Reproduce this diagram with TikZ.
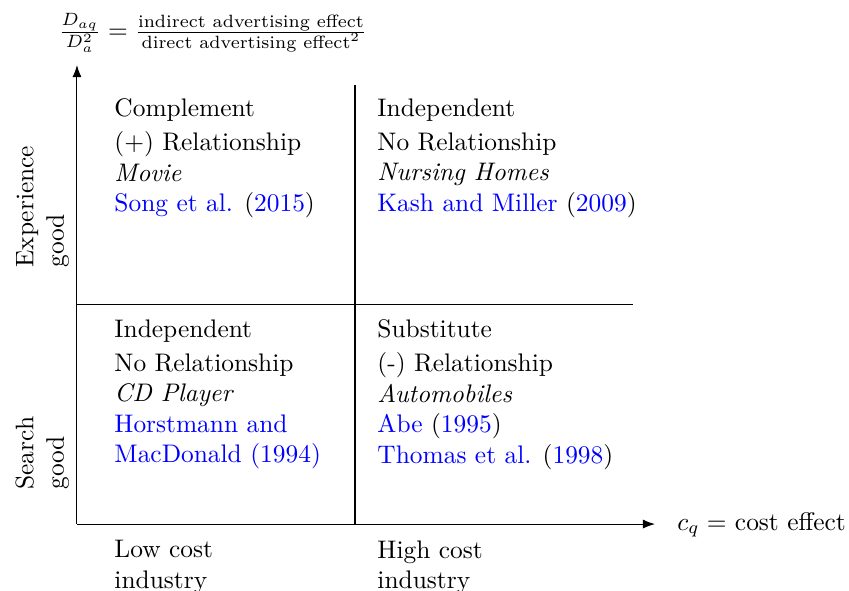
\documentclass[tikz,border=0pt]{standalone}
\usepackage{amsmath}
\usetikzlibrary{arrows.meta}
\newcommand{\citeblue}[2]{\textcolor{blue}{#1} (\textcolor{blue}{#2})}

\begin{document}
\begin{tikzpicture}[quad/.style={anchor=north west,align=left,inner sep=0pt},
    sidelabel/.style={anchor=base west,align=left,inner sep=0pt,rotate=90}]
        \useasboundingbox (-1.065,-0.913) rectangle (10.682,7.251);
        % axes and dividers
        \coordinate (o) at (0,0);
        \coordinate (ytop) at (0,6.351);
        \coordinate (xend) at (7.998,0);
        \coordinate (vtop) at (3.847,6.074);
        \coordinate (vbot) at (3.847,0);
        \coordinate (hleft) at (0,3.044);
        \coordinate (hright) at (7.693,3.044);
        \draw[-{Latex}] (o) -- (ytop);
        \draw[-{Latex}] (o) -- (xend);
        \draw (vbot) -- (vtop);
        \draw (hleft) -- (hright);
        % axis labels
        \node[anchor=west,inner sep=0pt] (ylab) at (-0.263,6.794)
          {$\frac{D_{aq}}{D_a^2} = \frac{\text{indirect advertising effect}}{\text{direct advertising effect}^2}$};
        \node[anchor=base west,inner sep=0pt] (xlab) at (8.302,-0.083) {$c_q = $ cost effect};
        \node[sidelabel] (exper) at (-0.180,3.542) {Experience\\good};
        \node[sidelabel] (search) at (-0.180,0.470) {Search\\good};
        \node[quad] (lowcost) at (0.512,-0.221) {Low cost\\industry};
        \node[quad] (highcost) at (4.151,-0.221) {High cost\\industry};
        % quadrants
        \node[quad] (compl) at (0.512,5.895)
          {Complement\\[1.5pt](+) Relationship\\\textit{Movie}\\\citeblue{Song et al.}{2015}};
        \node[quad] (indepup) at (4.151,5.895)
          {Independent\\[1.5pt]No Relationship\\\textit{Nursing Homes}\\\citeblue{Kash and Miller}{2009}};
        \node[quad] (indeplow) at (0.512,2.836)
          {Independent\\[1.5pt]No Relationship\\\textit{CD Player}\\\textcolor{blue}{Horstmann and}\\\textcolor{blue}{MacDonald (1994)}};
        \node[quad] (subst) at (4.151,2.836)
          {Substitute\\[1.5pt](-) Relationship\\\textit{Automobiles}\\\citeblue{Abe}{1995}\\\citeblue{Thomas et al.}{1998}};
      \end{tikzpicture}
\end{document}
